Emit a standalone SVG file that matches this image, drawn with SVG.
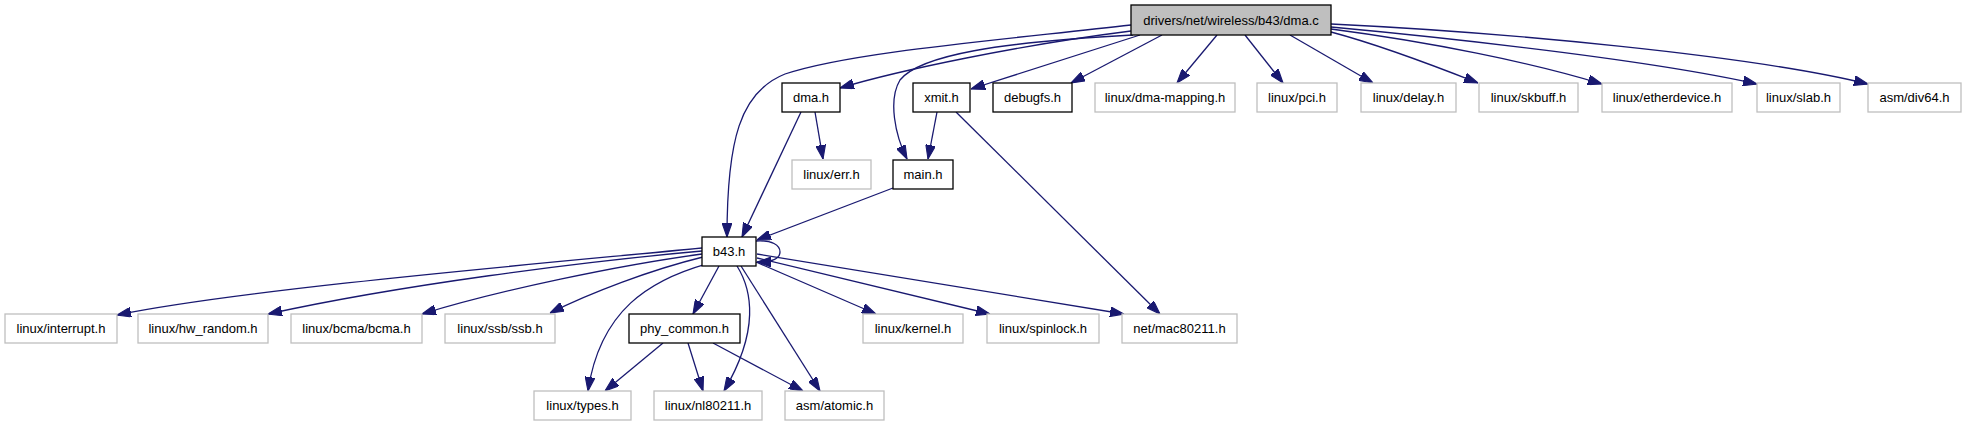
<svg xmlns="http://www.w3.org/2000/svg" width="1964" height="427" viewBox="0 0 1964 427">
<defs>
<marker id="ah" viewBox="0 0 10 7" refX="10" refY="3.5" markerWidth="14" markerHeight="10" markerUnits="userSpaceOnUse" orient="auto">
<path d="M0,0 L10,3.5 L0,7 z" fill="#191970" stroke="#191970" stroke-width="0.8"/>
</marker>
<style>
.n rect{fill:#fff;stroke:#000;stroke-width:1.3}
.x rect{fill:#fff;stroke:#bfbfbf;stroke-width:1.3}
.m rect{fill:#bfbfbf;stroke:#000;stroke-width:1.3}
text{font-family:"Liberation Sans",Arial,Helvetica,sans-serif;font-size:13px;fill:#000;text-anchor:middle}
#edges path{fill:none;stroke:#191970;stroke-width:1.3;marker-end:url(#ah)}
</style>
</defs>
<rect width="1964" height="427" fill="#fff"/>
<g id="edges">
<path d="M1131,25 C1000,40 850,52 785,74 C740,92 727,140 727,237"/>
<path d="M1131,31 C1020,45 900,70 840,88"/>
<path d="M1133,35 C1000,42 920,55 900,80 C888,100 895,135 907,159"/>
<path d="M1140,35 L971,89"/>
<path d="M1162,35 L1071,83"/>
<path d="M1217,35 L1177,83"/>
<path d="M1245,35 L1283,83"/>
<path d="M1290,35 L1373,83"/>
<path d="M1331,32 C1380,45 1440,68 1478,83"/>
<path d="M1331,29 C1430,42 1530,62 1602,84"/>
<path d="M1331,27 C1450,38 1650,60 1757,84"/>
<path d="M1331,24 C1500,32 1750,55 1868,84"/>
<path d="M801,112 L742,237"/>
<path d="M815,112 L823,159"/>
<path d="M937,112 L928,159"/>
<path d="M956,112 L1160,314"/>
<path d="M893,188 L757,240"/>
<path d="M756,241 C772,240 780,245 780,252 C780,259 772,262 757,262"/>
<path d="M702,248 C560,262 250,288 117,315"/>
<path d="M702,251 C580,262 400,285 268,314"/>
<path d="M702,254 C620,265 500,290 422,314"/>
<path d="M703,257 C650,270 590,293 550,313"/>
<path d="M706,264 C650,280 600,310 588,391"/>
<path d="M719,266 L693,314"/>
<path d="M737,266 C752,290 760,330 724,391"/>
<path d="M741,266 L820,391"/>
<path d="M756,262 L876,314"/>
<path d="M757,258 L990,314"/>
<path d="M757,254 L1124,314"/>
<path d="M663,343 L605,391"/>
<path d="M688,343 L703,391"/>
<path d="M713,343 L803,391"/>
</g>
<g id="n_main" class="m"><rect x="1131" y="5" width="200" height="30"/><text x="1231" y="24.5">drivers/net/wireless/b43/dma.c</text></g>
<g id="n_dma" class="n"><rect x="782" y="83" width="58" height="29"/><text x="811" y="102">dma.h</text></g>
<g id="n_xmit" class="n"><rect x="913" y="83" width="57" height="29"/><text x="941.5" y="102">xmit.h</text></g>
<g id="n_debugfs" class="n"><rect x="993" y="83" width="79" height="29"/><text x="1032.5" y="102">debugfs.h</text></g>
<g id="n_dmamapping" class="x"><rect x="1095" y="83" width="140" height="29"/><text x="1165" y="102">linux/dma-mapping.h</text></g>
<g id="n_pci" class="x"><rect x="1257" y="83" width="80" height="29"/><text x="1297" y="102">linux/pci.h</text></g>
<g id="n_delay" class="x"><rect x="1361" y="83" width="95" height="29"/><text x="1408.5" y="102">linux/delay.h</text></g>
<g id="n_skbuff" class="x"><rect x="1479" y="83" width="99" height="29"/><text x="1528.5" y="102">linux/skbuff.h</text></g>
<g id="n_etherdevice" class="x"><rect x="1602" y="83" width="130" height="29"/><text x="1667" y="102">linux/etherdevice.h</text></g>
<g id="n_slab" class="x"><rect x="1757" y="83" width="83" height="29"/><text x="1798.5" y="102">linux/slab.h</text></g>
<g id="n_div64" class="x"><rect x="1868" y="83" width="93" height="29"/><text x="1914.5" y="102">asm/div64.h</text></g>
<g id="n_err" class="x"><rect x="792" y="160" width="79" height="29"/><text x="831.5" y="179">linux/err.h</text></g>
<g id="n_mainh" class="n"><rect x="893" y="160" width="60" height="29"/><text x="923" y="179">main.h</text></g>
<g id="n_b43" class="n"><rect x="702" y="237" width="54" height="29"/><text x="729" y="256">b43.h</text></g>
<g id="n_interrupt" class="x"><rect x="5" y="314" width="112" height="29"/><text x="61" y="333">linux/interrupt.h</text></g>
<g id="n_hwrandom" class="x"><rect x="138" y="314" width="130" height="29"/><text x="203" y="333">linux/hw_random.h</text></g>
<g id="n_bcma" class="x"><rect x="291" y="314" width="131" height="29"/><text x="356.5" y="333">linux/bcma/bcma.h</text></g>
<g id="n_ssb" class="x"><rect x="445" y="314" width="110" height="29"/><text x="500" y="333">linux/ssb/ssb.h</text></g>
<g id="n_phy" class="n"><rect x="629" y="314" width="111" height="29"/><text x="684.5" y="333">phy_common.h</text></g>
<g id="n_kernel" class="x"><rect x="863" y="314" width="100" height="29"/><text x="913" y="333">linux/kernel.h</text></g>
<g id="n_spinlock" class="x"><rect x="987" y="314" width="112" height="29"/><text x="1043" y="333">linux/spinlock.h</text></g>
<g id="n_mac80211" class="x"><rect x="1122" y="314" width="115" height="29"/><text x="1179.5" y="333">net/mac80211.h</text></g>
<g id="n_types" class="x"><rect x="534" y="391" width="97" height="29"/><text x="582.5" y="410">linux/types.h</text></g>
<g id="n_nl80211" class="x"><rect x="654" y="391" width="108" height="29"/><text x="708" y="410">linux/nl80211.h</text></g>
<g id="n_atomic" class="x"><rect x="785" y="391" width="99" height="29"/><text x="834.5" y="410">asm/atomic.h</text></g>
</svg>
